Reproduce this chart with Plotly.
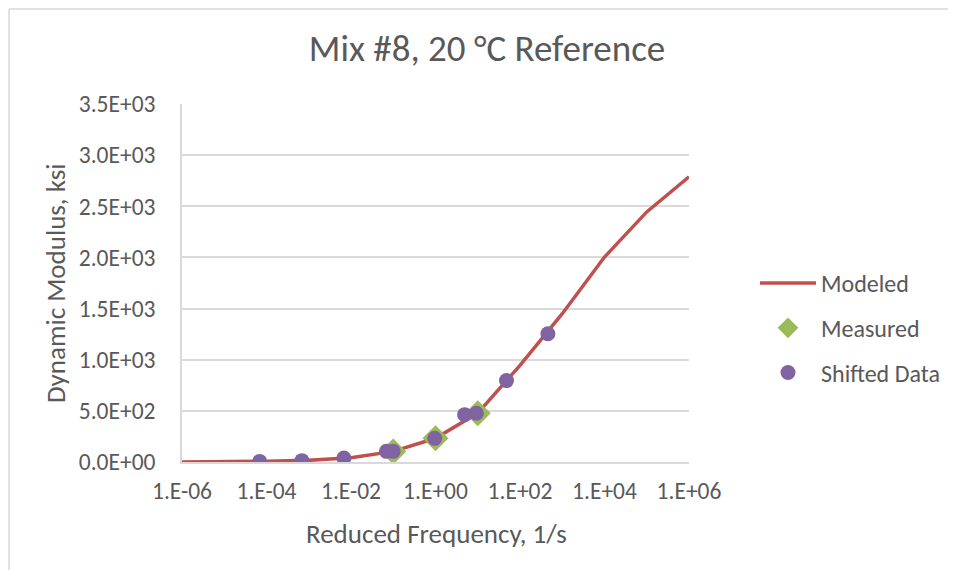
import plotly.graph_objects as go

# ---------------- data ----------------
model_freq = [1e-6, 1e-5, 1e-4, 1e-3, 1e-2, 1e-1, 1e0, 1e1, 1e2, 1e3, 1e4, 1e5, 1e6]
model_mod = [1, 3, 7, 16, 42, 104, 232, 478, 944, 1450, 2004, 2445, 2788]

measured_freq = [0.1, 1.0, 10.0]
measured_mod = [102, 231, 476]

shifted_freq = [6.9e-5, 6.9e-4, 6.8e-3, 0.069, 0.1, 0.96, 4.9, 9.3, 47.9, 457]
shifted_mod = [6, 13, 39, 104, 104, 231, 463, 476, 796, 1254]

x_tickvals = [1e-6, 1e-4, 1e-2, 1e0, 1e2, 1e4, 1e6]
x_ticktext = ["1.E-06", "1.E-04", "1.E-02", "1.E+00", "1.E+02", "1.E+04", "1.E+06"]
y_tickvals = [0, 500, 1000, 1500, 2000, 2500, 3000, 3500]
y_ticktext = ["0.0E+00", "5.0E+02", "1.0E+03", "1.5E+03", "2.0E+03", "2.5E+03", "3.0E+03", "3.5E+03"]

title_text = "Mix #8, 20 °C Reference"
x_title = "Reduced Frequency, 1/s"
y_title = "Dynamic Modulus, ksi"

# ---------------- style ----------------
FONT = "Carlito, Lato, sans-serif"
TXT = "#595959"
GRID = "#d9d9d9"
RED = "#c0504d"
GREEN = "#9bbb59"
PURPLE = "#8064a2"

WIN_W, WIN_H = 956, 578
OX, OY = 8, 8                        # page body margin
W, H = WIN_W - 2 * OX, WIN_H - 2 * OY  # figure fits the window without scrolling
PL, PR, PT, PB = 182, 689, 104, 462  # plot area in screen px
L, T = PL - OX, PT - OY
R, B = W - (PR - OX), H - (PB - OY)
pw, ph = PR - PL, PB - PT


def px_x(sx):
    return (sx - PL) / pw


def px_y(sy):
    return (PB - sy) / ph


def cx(sx):
    return (sx - OX) / W


def cy(sy):
    return 1 - (sy - OY) / H


fig = go.Figure()
fig.add_trace(go.Scatter(
    x=model_freq, y=model_mod, mode="lines", name="Modeled",
    line=dict(color=RED, width=3.5), legendgroup="a"))
fig.add_trace(go.Scatter(
    x=measured_freq, y=measured_mod, mode="markers", name="Measured",
    marker=dict(symbol="diamond", color=GREEN, size=20), legendgroup="b"))
fig.add_trace(go.Scatter(
    x=shifted_freq, y=shifted_mod, mode="markers", name="Shifted Data",
    marker=dict(symbol="circle", color=PURPLE, size=15), legendgroup="c"))

fig.update_layout(
    width=W, height=H,
    margin=dict(l=L, r=R, t=T, b=B, autoexpand=False),
    paper_bgcolor="white", plot_bgcolor="white",
    font=dict(family=FONT, color=TXT),
    title=dict(text=title_text, font=dict(size=37, color=TXT, family=FONT),
               x=cx(487), xref="container", xanchor="center",
               y=cy(48), yref="container", yanchor="middle"),
    legend=dict(font=dict(size=24, color=TXT, family=FONT),
                xref="container", yref="container",
                x=cx(755), xanchor="left", y=cy(261), yanchor="top",
                itemwidth=56, tracegroupgap=10.5, bgcolor="rgba(0,0,0,0)"),
    showlegend=True,
)

fig.update_xaxes(
    type="log", range=[-6, 6],
    tickvals=x_tickvals, ticktext=x_ticktext,
    tickfont=dict(size=23.5, color=TXT, family=FONT),
    showgrid=False, zeroline=False,
    showline=True, linecolor=GRID, linewidth=1.5,
    ticks="", ticklabelstandoff=7,
)
fig.update_yaxes(
    range=[0, 3500],
    tickvals=y_tickvals, ticktext=y_ticktext,
    tickfont=dict(size=23.5, color=TXT, family=FONT),
    showgrid=True, gridcolor=GRID, gridwidth=1.5, zeroline=False,
    showline=True, linecolor=GRID, linewidth=1.5,
    ticks="", ticklabelstandoff=20,
)

fig.add_annotation(text=y_title, textangle=-90, showarrow=False,
                   xref="paper", yref="paper",
                   x=px_x(55), y=px_y(283),
                   xanchor="center", yanchor="middle",
                   font=dict(size=27, color=TXT, family=FONT))
fig.add_annotation(text=x_title, showarrow=False,
                   xref="paper", yref="paper",
                   x=px_x(436), y=px_y(533),
                   xanchor="center", yanchor="middle",
                   font=dict(size=27, color=TXT, family=FONT))

# outer chart border: only left and top edges are visible in the reference
fig.add_shape(type="line", xref="paper", yref="paper",
              x0=px_x(OX + 1), x1=px_x(OX + 1),
              y0=px_y(OY + H), y1=px_y(OY + 1),
              line=dict(color=GRID, width=1.5), layer="below")
fig.add_shape(type="line", xref="paper", yref="paper",
              x0=px_x(OX + 1), x1=px_x(OX + W),
              y0=px_y(OY + 1), y1=px_y(OY + 1),
              line=dict(color=GRID, width=1.5), layer="below")

fig.write_html("out.html")
